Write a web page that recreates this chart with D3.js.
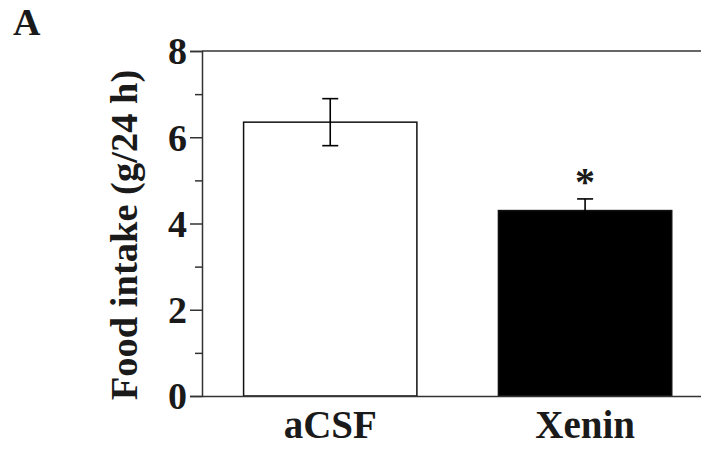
<!DOCTYPE html>
<html>
<head>
<meta charset="utf-8">
<script src="https://cdn.jsdelivr.net/npm/d3@7"></script>
<style>
  html, body { margin: 0; padding: 0; background: #fff; }
  svg { display: block; }
  text { font-family: "Liberation Serif", "Times New Roman", serif; font-weight: bold; fill: #1a1a1a; }
</style>
</head>
<body>
<svg id="chart" width="701" height="449"></svg>
<script>
// Data
const categories = ["aCSF", "Xenin"];
const means = [6.35, 4.30];
const errors = [0.545, 0.27];
const fills = ["#ffffff", "#000000"];
const significance = ["", "*"];
const yTicks = [0, 2, 4, 6, 8];
const yMinorTicks = [1, 3, 5, 7];
const yLabel = "Food intake (g/24 h)";
const panelLabel = "A";

(function () {
const svg = d3.select("#chart");
const mLeft = 202, mRight = 701, mTop = 51, mBottom = 396;

const y = d3.scaleLinear().domain([0, 8]).range([mBottom, mTop]);
const x = d3.scaleBand().domain(categories).range([mLeft, mRight])
  .paddingInner(0.32).paddingOuter(0.139).align(0.587);

const axisColor = "#333";

// Top frame line
svg.append("line").attr("x1", mLeft).attr("x2", mRight).attr("y1", y(8)).attr("y2", y(8))
  .attr("stroke", axisColor).attr("stroke-width", 1.5);

// Bars
categories.forEach((c, i) => {
  svg.append("rect")
    .attr("x", x(c)).attr("width", x.bandwidth())
    .attr("y", y(means[i])).attr("height", y(0) - y(means[i]))
    .attr("fill", fills[i]).attr("stroke", "#111").attr("stroke-width", 1.5);
});

// Error bars
categories.forEach((c, i) => {
  const cx = x(c) + x.bandwidth() / 2;
  const hi = y(means[i] + errors[i]), lo = y(means[i] - errors[i]);
  const g = svg.append("g").attr("stroke", "#000").attr("stroke-width", 1.6);
  g.append("line").attr("x1", cx).attr("x2", cx).attr("y1", hi).attr("y2", lo);
  g.append("line").attr("x1", cx - 8).attr("x2", cx + 8).attr("y1", hi).attr("y2", hi);
  g.append("line").attr("x1", cx - 8).attr("x2", cx + 8).attr("y1", lo).attr("y2", lo);
  if (significance[i]) {
    svg.append("text").attr("x", cx).attr("y", hi - 4).attr("text-anchor", "middle")
      .style("font-size", "40px").text(significance[i]);
  }
});

// Y axis with major ticks
const yAxis = d3.axisLeft(y).tickValues(yTicks).tickSize(12).tickPadding(3).tickFormat(d3.format("d"));
const ga = svg.append("g").attr("transform", `translate(${mLeft},0)`).call(yAxis);
ga.select(".domain").attr("stroke", axisColor).attr("stroke-width", 1.5);
ga.selectAll(".tick line").attr("stroke", axisColor).attr("stroke-width", 1.5);
ga.selectAll(".tick text").style("font-size", "38px").attr("fill", "#1a1a1a")
  .attr("dy", "0.34em");

// Minor ticks
const gm = svg.append("g").attr("transform", `translate(${mLeft},0)`)
  .call(d3.axisLeft(y).tickValues(yMinorTicks).tickSize(7).tickFormat(""));
gm.select(".domain").remove();
gm.selectAll(".tick line").attr("stroke", axisColor).attr("stroke-width", 1.5);

// X axis (baseline) without ticks
const gx = svg.append("g").attr("transform", `translate(0,${mBottom})`)
  .call(d3.axisBottom(x).tickSize(0).tickPadding(0));
gx.select(".domain").attr("stroke", axisColor).attr("stroke-width", 1.5);
gx.selectAll(".tick text").style("font-size", "39px").attr("fill", "#1a1a1a")
  .attr("dy", null).attr("y", 42);

// Y label
svg.append("text").attr("transform", "translate(137,235) rotate(-90)")
  .attr("text-anchor", "middle").style("font-size", "38.5px").text(yLabel);

// Panel label
svg.append("text").attr("x", 13).attr("y", 35).style("font-size", "38px").text(panelLabel);
})();
</script>
</body>
</html>
